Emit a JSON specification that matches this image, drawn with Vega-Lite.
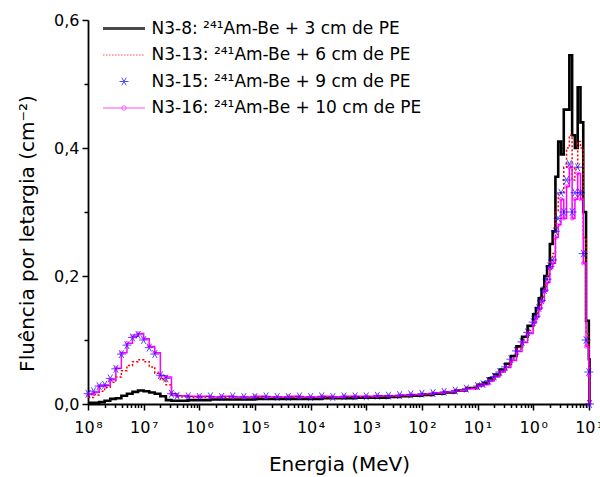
{
  "$schema": "https://vega.github.io/schema/vega-lite/v6.json",
  "width": 502,
  "height": 384,
  "autosize": {"type": "none"},
  "padding": {"left": 88, "top": 20, "right": 10, "bottom": 73},
  "background": "white",
  "config": {
    "font": "DejaVu Sans",
    "view": {"stroke": null},
    "axis": {
      "labelFont": "DejaVu Sans",
      "titleFont": "DejaVu Sans",
      "labelColor": "#000",
      "titleColor": "#000",
      "domainColor": "#000",
      "tickColor": "#000",
      "labelFontSize": 16,
      "titleFontSize": 20,
      "titleFontWeight": "normal",
      "grid": false,
      "domainWidth": 1.8,
      "tickWidth": 1.5
    }
  },
  "data": {
    "values": [
      {"E": 1e-8, "N3-8": 0.002, "N3-13": 0.010, "N3-15": 0.016, "N3-16": 0.015},
      {"E": 1.259e-8, "N3-8": 0.002, "N3-13": 0.014, "N3-15": 0.020, "N3-16": 0.018},
      {"E": 1.585e-8, "N3-8": 0.003, "N3-13": 0.020, "N3-15": 0.028, "N3-16": 0.028},
      {"E": 1.995e-8, "N3-8": 0.005, "N3-13": 0.026, "N3-15": 0.030, "N3-16": 0.029},
      {"E": 2.512e-8, "N3-8": 0.008, "N3-13": 0.034, "N3-15": 0.040, "N3-16": 0.038},
      {"E": 3.162e-8, "N3-8": 0.009, "N3-13": 0.042, "N3-15": 0.055, "N3-16": 0.056},
      {"E": 3.981e-8, "N3-8": 0.013, "N3-13": 0.052, "N3-15": 0.078, "N3-16": 0.080},
      {"E": 5.012e-8, "N3-8": 0.016, "N3-13": 0.060, "N3-15": 0.092, "N3-16": 0.095},
      {"E": 6.310e-8, "N3-8": 0.019, "N3-13": 0.066, "N3-15": 0.104, "N3-16": 0.106},
      {"E": 7.943e-8, "N3-8": 0.021, "N3-13": 0.069, "N3-15": 0.108, "N3-16": 0.110},
      {"E": 1e-7, "N3-8": 0.020, "N3-13": 0.066, "N3-15": 0.100, "N3-16": 0.102},
      {"E": 1.259e-7, "N3-8": 0.018, "N3-13": 0.058, "N3-15": 0.088, "N3-16": 0.090},
      {"E": 1.585e-7, "N3-8": 0.016, "N3-13": 0.048, "N3-15": 0.078, "N3-16": 0.080},
      {"E": 1.995e-7, "N3-8": 0.012, "N3-13": 0.038, "N3-15": 0.045, "N3-16": 0.044},
      {"E": 2.512e-7, "N3-8": 0.006, "N3-13": 0.030, "N3-15": 0.040, "N3-16": 0.042},
      {"E": 3.162e-7, "N3-8": 0.005, "N3-13": 0.014, "N3-15": 0.016, "N3-16": 0.016},
      {"E": 3.981e-7, "N3-8": 0.005, "N3-13": 0.011, "N3-15": 0.013, "N3-16": 0.013},
      {"E": 6.310e-7, "N3-8": 0.006, "N3-13": 0.010, "N3-15": 0.012, "N3-16": 0.012},
      {"E": 1e-6, "N3-8": 0.006, "N3-13": 0.010, "N3-15": 0.011, "N3-16": 0.012},
      {"E": 1.585e-6, "N3-8": 0.007, "N3-13": 0.010, "N3-15": 0.012, "N3-16": 0.011},
      {"E": 2.512e-6, "N3-8": 0.007, "N3-13": 0.010, "N3-15": 0.011, "N3-16": 0.012},
      {"E": 3.981e-6, "N3-8": 0.007, "N3-13": 0.010, "N3-15": 0.012, "N3-16": 0.011},
      {"E": 6.310e-6, "N3-8": 0.007, "N3-13": 0.010, "N3-15": 0.011, "N3-16": 0.011},
      {"E": 1e-5, "N3-8": 0.008, "N3-13": 0.010, "N3-15": 0.011, "N3-16": 0.012},
      {"E": 1.585e-5, "N3-8": 0.008, "N3-13": 0.010, "N3-15": 0.012, "N3-16": 0.011},
      {"E": 2.512e-5, "N3-8": 0.008, "N3-13": 0.010, "N3-15": 0.011, "N3-16": 0.011},
      {"E": 3.981e-5, "N3-8": 0.008, "N3-13": 0.010, "N3-15": 0.011, "N3-16": 0.012},
      {"E": 6.310e-5, "N3-8": 0.008, "N3-13": 0.010, "N3-15": 0.012, "N3-16": 0.011},
      {"E": 1e-4, "N3-8": 0.008, "N3-13": 0.010, "N3-15": 0.011, "N3-16": 0.011},
      {"E": 1.585e-4, "N3-8": 0.009, "N3-13": 0.010, "N3-15": 0.012, "N3-16": 0.012},
      {"E": 2.512e-4, "N3-8": 0.009, "N3-13": 0.010, "N3-15": 0.011, "N3-16": 0.011},
      {"E": 3.981e-4, "N3-8": 0.009, "N3-13": 0.011, "N3-15": 0.012, "N3-16": 0.012},
      {"E": 6.310e-4, "N3-8": 0.010, "N3-13": 0.011, "N3-15": 0.012, "N3-16": 0.012},
      {"E": 1e-3, "N3-8": 0.010, "N3-13": 0.011, "N3-15": 0.012, "N3-16": 0.012},
      {"E": 1.585e-3, "N3-8": 0.010, "N3-13": 0.012, "N3-15": 0.013, "N3-16": 0.013},
      {"E": 2.512e-3, "N3-8": 0.011, "N3-13": 0.012, "N3-15": 0.013, "N3-16": 0.013},
      {"E": 3.981e-3, "N3-8": 0.012, "N3-13": 0.013, "N3-15": 0.014, "N3-16": 0.014},
      {"E": 6.310e-3, "N3-8": 0.013, "N3-13": 0.014, "N3-15": 0.015, "N3-16": 0.015},
      {"E": 1e-2, "N3-8": 0.014, "N3-13": 0.015, "N3-15": 0.016, "N3-16": 0.016},
      {"E": 1.585e-2, "N3-8": 0.016, "N3-13": 0.017, "N3-15": 0.017, "N3-16": 0.017},
      {"E": 2.512e-2, "N3-8": 0.018, "N3-13": 0.019, "N3-15": 0.019, "N3-16": 0.019},
      {"E": 3.981e-2, "N3-8": 0.021, "N3-13": 0.021, "N3-15": 0.021, "N3-16": 0.021},
      {"E": 6.310e-2, "N3-8": 0.025, "N3-13": 0.025, "N3-15": 0.024, "N3-16": 0.024},
      {"E": 0.1, "N3-8": 0.030, "N3-13": 0.029, "N3-15": 0.028, "N3-16": 0.028},
      {"E": 0.1259, "N3-8": 0.033, "N3-13": 0.031, "N3-15": 0.031, "N3-16": 0.030},
      {"E": 0.1585, "N3-8": 0.040, "N3-13": 0.037, "N3-15": 0.036, "N3-16": 0.036},
      {"E": 0.1995, "N3-8": 0.046, "N3-13": 0.044, "N3-15": 0.043, "N3-16": 0.042},
      {"E": 0.2512, "N3-8": 0.054, "N3-13": 0.052, "N3-15": 0.050, "N3-16": 0.050},
      {"E": 0.3162, "N3-8": 0.063, "N3-13": 0.060, "N3-15": 0.058, "N3-16": 0.057},
      {"E": 0.3981, "N3-8": 0.075, "N3-13": 0.072, "N3-15": 0.070, "N3-16": 0.068},
      {"E": 0.5012, "N3-8": 0.090, "N3-13": 0.086, "N3-15": 0.083, "N3-16": 0.082},
      {"E": 0.6310, "N3-8": 0.105, "N3-13": 0.100, "N3-15": 0.097, "N3-16": 0.096},
      {"E": 0.7943, "N3-8": 0.122, "N3-13": 0.115, "N3-15": 0.112, "N3-16": 0.110},
      {"E": 1.0, "N3-8": 0.140, "N3-13": 0.132, "N3-15": 0.128, "N3-16": 0.126},
      {"E": 1.122, "N3-8": 0.150, "N3-13": 0.142, "N3-15": 0.137, "N3-16": 0.135},
      {"E": 1.259, "N3-8": 0.165, "N3-13": 0.155, "N3-15": 0.150, "N3-16": 0.148},
      {"E": 1.413, "N3-8": 0.180, "N3-13": 0.168, "N3-15": 0.162, "N3-16": 0.160},
      {"E": 1.585, "N3-8": 0.200, "N3-13": 0.185, "N3-15": 0.178, "N3-16": 0.176},
      {"E": 1.778, "N3-8": 0.215, "N3-13": 0.200, "N3-15": 0.195, "N3-16": 0.190},
      {"E": 1.995, "N3-8": 0.250, "N3-13": 0.225, "N3-15": 0.215, "N3-16": 0.212},
      {"E": 2.239, "N3-8": 0.270, "N3-13": 0.235, "N3-15": 0.225, "N3-16": 0.220},
      {"E": 2.512, "N3-8": 0.355, "N3-13": 0.300, "N3-15": 0.270, "N3-16": 0.260},
      {"E": 2.818, "N3-8": 0.410, "N3-13": 0.330, "N3-15": 0.290, "N3-16": 0.280},
      {"E": 3.162, "N3-8": 0.390, "N3-13": 0.330, "N3-15": 0.330, "N3-16": 0.320},
      {"E": 3.548, "N3-8": 0.460, "N3-13": 0.370, "N3-15": 0.300, "N3-16": 0.290},
      {"E": 3.981, "N3-8": 0.460, "N3-13": 0.400, "N3-15": 0.350, "N3-16": 0.340},
      {"E": 4.467, "N3-8": 0.545, "N3-13": 0.420, "N3-15": 0.375, "N3-16": 0.370},
      {"E": 5.012, "N3-8": 0.420, "N3-13": 0.350, "N3-15": 0.300, "N3-16": 0.290},
      {"E": 5.623, "N3-8": 0.400, "N3-13": 0.370, "N3-15": 0.330, "N3-16": 0.320},
      {"E": 6.310, "N3-8": 0.495, "N3-13": 0.410, "N3-15": 0.370, "N3-16": 0.360},
      {"E": 7.079, "N3-8": 0.440, "N3-13": 0.400, "N3-15": 0.330, "N3-16": 0.320},
      {"E": 7.943, "N3-8": 0.300, "N3-13": 0.260, "N3-15": 0.235, "N3-16": 0.220},
      {"E": 8.913, "N3-8": 0.130, "N3-13": 0.110, "N3-15": 0.100, "N3-16": 0.090},
      {"E": 10.0, "N3-8": 0.070, "N3-13": 0.060, "N3-15": 0.050, "N3-16": 0.045},
      {"E": 10.3, "N3-8": 0.0, "N3-13": 0.0, "N3-15": 0.0, "N3-16": 0.0}
    ]
  },
  "transform": [
    {"fold": ["N3-8", "N3-13", "N3-15", "N3-16"], "as": ["series", "value"]}
  ],
  "layer": [
    {
      "transform": [{"filter": "datum.series == 'N3-8'"}],
      "mark": {"type": "line", "interpolate": "step-after", "color": "#000000", "strokeWidth": 2.6},
      "encoding": {
        "x": {
          "field": "E", "type": "quantitative",
          "scale": {"type": "log", "domain": [1e-8, 10.5], "nice": false},
          "axis": {
            "orient": "bottom",
            "values": [1e-8, 1e-7, 1e-6, 1e-5, 1e-4, 1e-3, 1e-2, 1e-1, 1, 10],
            "labelExpr": "'10\u200a' + ['⁰','¹','²','³','⁴','⁵','⁶','⁷','⁸','⁹'][abs(round(log(datum.value)/LN10))]",
            "tickSize": 6,
            "labelPadding": 9,
            "labelFlush": false,
            "labelOverlap": false,
            "title": "Energia (MeV)",
            "titlePadding": 19
          }
        },
        "y": {
          "field": "value", "type": "quantitative",
          "scale": {"domain": [0, 0.6], "nice": false},
          "axis": {
            "orient": "left",
            "values": [0, 0.2, 0.4, 0.6],
            "labelExpr": "replace(format(datum.value, '.1f'), '.', ',')",
            "tickSize": 6,
            "labelPadding": 3,
            "title": "Fluência por letargia (cm⁻²)",
            "titleX": -51,
            "titleY": 213
          }
        }
      }
    },
    {
      "transform": [{"filter": "datum.series == 'N3-13'"}],
      "mark": {"type": "line", "interpolate": "step-after", "color": "#ff0000", "strokeWidth": 1.5, "strokeDash": [2, 2]},
      "encoding": {
        "x": {
          "field": "E", "type": "quantitative",
          "axis": {
            "orient": "bottom",
            "values": [2e-8, 3e-8, 4e-8, 5e-8, 6e-8, 7e-8, 8e-8, 9e-8,
                       2e-7, 3e-7, 4e-7, 5e-7, 6e-7, 7e-7, 8e-7, 9e-7,
                       2e-6, 3e-6, 4e-6, 5e-6, 6e-6, 7e-6, 8e-6, 9e-6,
                       2e-5, 3e-5, 4e-5, 5e-5, 6e-5, 7e-5, 8e-5, 9e-5,
                       2e-4, 3e-4, 4e-4, 5e-4, 6e-4, 7e-4, 8e-4, 9e-4,
                       2e-3, 3e-3, 4e-3, 5e-3, 6e-3, 7e-3, 8e-3, 9e-3,
                       2e-2, 3e-2, 4e-2, 5e-2, 6e-2, 7e-2, 8e-2, 9e-2,
                       0.2, 0.3, 0.4, 0.5, 0.6, 0.7, 0.8, 0.9,
                       2, 3, 4, 5, 6, 7, 8, 9],
            "labels": false,
            "domain": false,
            "tickSize": 3.5,
            "title": null
          }
        },
        "y": {
          "field": "value", "type": "quantitative",
          "axis": {
            "orient": "left",
            "values": [0.1, 0.3, 0.5],
            "labels": false,
            "domain": false,
            "tickSize": 4,
            "title": null
          }
        }
      }
    },
    {
      "transform": [{"filter": "datum.series == 'N3-16'"}],
      "mark": {"type": "line", "interpolate": "step-after", "color": "#ff00ff", "strokeWidth": 1.5},
      "encoding": {
        "x": {"field": "E", "type": "quantitative", "axis": null},
        "y": {"field": "value", "type": "quantitative", "axis": null}
      }
    },
    {
      "transform": [{"filter": "datum.series == 'N3-15'"}],
      "mark": {"type": "point", "filled": false, "size": 400, "strokeWidth": 1},
      "encoding": {
        "x": {"field": "E", "type": "quantitative", "axis": null},
        "y": {"field": "value", "type": "quantitative", "axis": null},
        "color": {
          "field": "series", "type": "nominal",
          "scale": {"domain": ["N3-8", "N3-13", "N3-15", "N3-16"], "range": ["#000000", "#ff0000", "#0000ff", "#ff00ff"]},
          "legend": {
            "title": null,
            "orient": "none",
            "legendX": 25.5,
            "legendY": -2,
            "padding": 0,
            "symbolSize": 400,
            "symbolStrokeWidth": 1,
            "labelFont": "DejaVu Sans",
            "labelFontSize": 17,
            "labelColor": "#000",
            "labelOffset": 17,
            "labelLimit": 400,
            "rowPadding": 7.5,
            "labelExpr": "datum.label + ': ²⁴¹Am-Be + ' + (datum.label == 'N3-8' ? '3' : datum.label == 'N3-13' ? '6' : datum.label == 'N3-15' ? '9' : '10') + ' cm de PE'"
          }
        },
        "shape": {
          "field": "series", "type": "nominal",
          "scale": {
            "domain": ["N3-8", "N3-13", "N3-15", "N3-16"],
            "range": [
              "M-2.1,-0.1L2.1,-0.1M-2.1,0L2.1,0M-2.1,0.1L2.1,0.1",
              "M-2.1,0L-1.95,0M-1.8,0L-1.65,0M-1.5,0L-1.35,0M-1.2,0L-1.05,0M-0.9,0L-0.75,0M-0.6,0L-0.45,0M-0.3,0L-0.15,0M0,0L0.15,0M0.3,0L0.45,0M0.6,0L0.75,0M0.9,0L1.05,0M1.2,0L1.35,0M1.5,0L1.65,0M1.8,0L1.95,0",
              "M-0.45,0L0.45,0M-0.225,-0.39L0.225,0.39M-0.225,0.39L0.225,-0.39",
              "M-2.1,0L2.1,0M-0.22,0A0.22,0.22,0,1,1,0.22,0A0.22,0.22,0,1,1,-0.22,0"
            ]
          },
          "legend": {
            "title": null,
            "orient": "none",
            "legendX": 25.5,
            "legendY": -2,
            "padding": 0,
            "symbolSize": 400,
            "symbolStrokeWidth": 1,
            "labelFont": "DejaVu Sans",
            "labelFontSize": 17,
            "labelColor": "#000",
            "labelOffset": 17,
            "labelLimit": 400,
            "rowPadding": 7.5,
            "labelExpr": "datum.label + ': ²⁴¹Am-Be + ' + (datum.label == 'N3-8' ? '3' : datum.label == 'N3-13' ? '6' : datum.label == 'N3-15' ? '9' : '10') + ' cm de PE'"
          }
        }
      }
    },
    {
      "transform": [{"filter": "datum.series == 'N3-16'"}],
      "mark": {"type": "point", "shape": "circle", "filled": false, "size": 12, "strokeWidth": 1, "color": "#ff00ff"},
      "encoding": {
        "x": {"field": "E", "type": "quantitative", "axis": null},
        "y": {"field": "value", "type": "quantitative", "axis": null}
      }
    }
  ],
  "resolve": {"axis": {"x": "independent", "y": "independent"}}
}
